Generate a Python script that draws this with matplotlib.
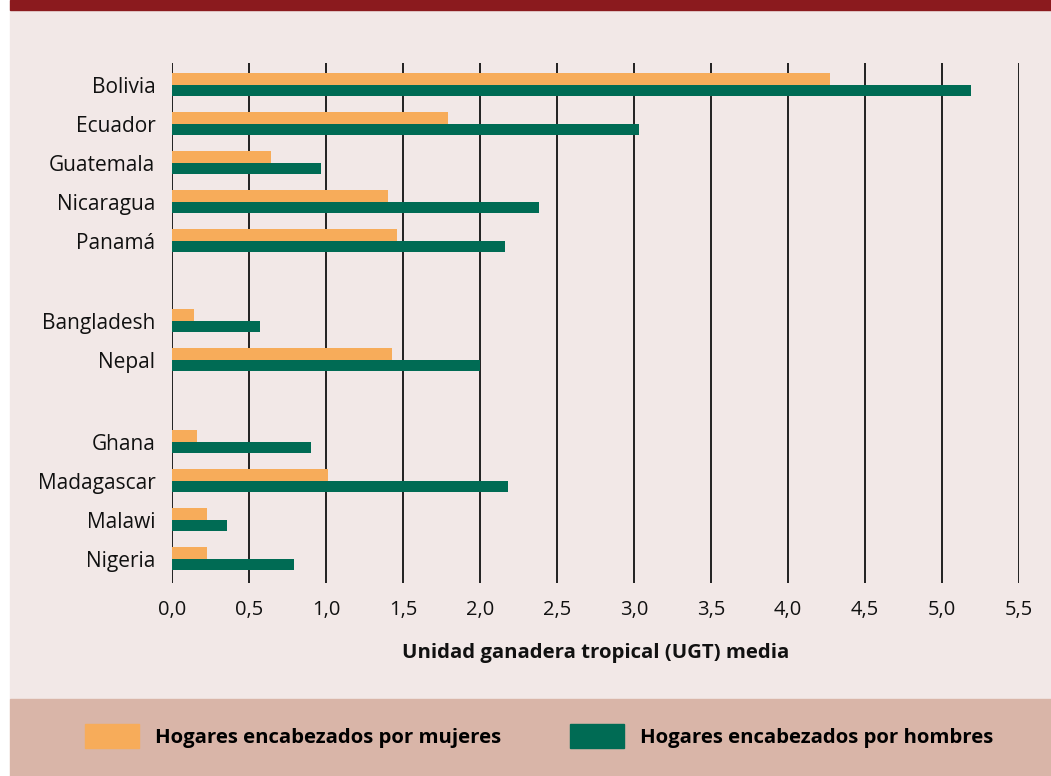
import matplotlib.pyplot as plt
import matplotlib.transforms as mtransforms
from matplotlib.patches import Rectangle, Patch

COUNTRIES = ["Bolivia", "Ecuador", "Guatemala", "Nicaragua", "Panamá",
             "Bangladesh", "Nepal",
             "Ghana", "Madagascar", "Malawi", "Nigeria"]
WOMEN = [4.27, 1.79, 0.64, 1.40, 1.46, 0.14, 1.43, 0.16, 1.01, 0.23, 0.23]
MEN = [5.19, 3.03, 0.97, 2.38, 2.16, 0.57, 2.00, 0.90, 2.18, 0.36, 0.79]
# row positions (gaps between regions)
ROWS = [0, 1, 2, 3, 4, 6.05, 7.05, 9.15, 10.15, 11.15, 12.15]
XTICKS = [0, 0.5, 1.0, 1.5, 2.0, 2.5, 3.0, 3.5, 4.0, 4.5, 5.0, 5.5]

ORANGE = "#F7AC5A"
GREEN = "#006B54"
PINK = "#F2E8E7"
TAN = "#D9B5A8"
RED = "#8B1A1E"

W, H = 1051, 776
plt.rcParams["font.family"] = ["Open Sans", "DejaVu Sans"]

fig = plt.figure(figsize=(W / 100, H / 100), dpi=100, facecolor="white")

# background bands
for (x0, y0, w, h, c) in [(10, 10, W, 689, PINK), (10, 0, W, 10, RED), (10, 699, W, 77, TAN)]:
    fig.patches.append(Rectangle((x0 / W, 1 - (y0 + h) / H), w / W, h / H,
                                 transform=fig.transFigure, color=c, zorder=-10))

ax = fig.add_axes([172 / W, 1 - 583 / H, (1019 - 172) / W, (583 - 63) / H])
ax.set_facecolor("none")

bh = 0.295
ax.barh([r - bh / 2 for r in ROWS], WOMEN, height=bh, color=ORANGE, zorder=3)
ax.barh([r + bh / 2 for r in ROWS], MEN, height=bh, color=GREEN, zorder=3)

ax.set_xlim(0, 5.5)
ax.set_ylim(12.77, -0.56)
ax.set_yticks(ROWS)
ax.set_yticklabels(COUNTRIES, fontsize=15, color="#111111")
shift = mtransforms.ScaledTranslation(0, 3 / 100, fig.dpi_scale_trans)
for lab in ax.get_yticklabels():
    lab.set_va("center_baseline")
    lab.set_transform(lab.get_transform() + shift)
ax.set_xticks(XTICKS)
ax.set_xticklabels([f"{v:.1f}".replace(".", ",") for v in XTICKS],
                   fontsize=14.5, color="#111111")
ax.tick_params(axis="y", length=0, pad=12)
ax.tick_params(axis="x", length=0, pad=12)
ax.grid(axis="x", color="#111111", linewidth=1.3, zorder=0)
for s in ax.spines.values():
    s.set_visible(False)

ax.set_xlabel("Unidad ganadera tropical (UGT) media", fontsize=14.7,
              fontweight="bold", color="#111111")
ax.xaxis.set_label_coords(0.5, -70 / 520)
ax.xaxis.label.set_va("center")

handles = [Patch(color=ORANGE, label="Hogares encabezados por mujeres"),
           Patch(color=GREEN, label="Hogares encabezados por hombres")]
fig.legend(handles=handles, loc="center", bbox_to_anchor=(539 / W, 1 - 736 / H),
           ncol=2, frameon=False, handlelength=2.65, handleheight=1.4,
           handletextpad=0.78, columnspacing=3.4,
           prop={"family": ["Open Sans", "DejaVu Sans"], "size": 14.7, "weight": "bold"})

fig.savefig("out.png", dpi=100)
